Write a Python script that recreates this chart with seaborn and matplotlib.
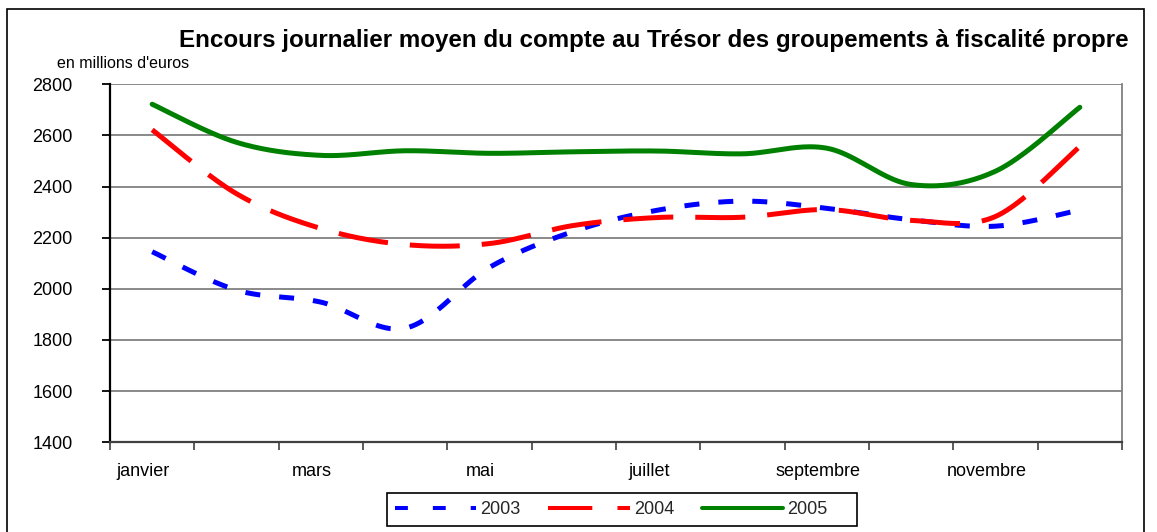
import numpy as np
import pandas as pd
import matplotlib
matplotlib.use("Agg")
import matplotlib.pyplot as plt
import matplotlib.transforms as mtransforms
import seaborn as sns
from matplotlib.patches import Rectangle
from matplotlib.ticker import FixedLocator, NullFormatter, FixedFormatter

# ---------------- data ----------------
months = ["janvier", "février", "mars", "avril", "mai", "juin", "juillet",
          "août", "septembre", "octobre", "novembre", "décembre"]
shown_month_labels = ["janvier", "mars", "mai", "juillet", "septembre", "novembre"]
years = ["2003", "2004", "2005"]
v2003 = [2145, 1995, 1948, 1846, 2084, 2225, 2308, 2343, 2315, 2270, 2245, 2308]
v2004 = [2622, 2372, 2236, 2173, 2177, 2248, 2279, 2280, 2310, 2268, 2283, 2557]
v2005 = [2722, 2573, 2522, 2540, 2530, 2536, 2539, 2528, 2550, 2408, 2460, 2710]
y_ticks = [1400, 1600, 1800, 2000, 2200, 2400, 2600, 2800]

title = "Encours journalier moyen du compte au Trésor des groupements à fiscalité propre"
unit_label = "en millions d'euros"

colors = {"2003": "#0000FF", "2004": "#FF0000", "2005": "#008000"}
dashes = {"2003": (3.0, 3.8), "2004": (10.0, 4.4), "2005": ""}
legend_dashes = {"2003": (3.2, 6.2), "2004": (11.0, 6.25), "2005": None}


def smooth(vals, n=40):
    """Bezier smoothing like spreadsheet 'smoothed line' rendering."""
    x = np.arange(len(vals), dtype=float)
    y = np.asarray(vals, dtype=float)
    pts = np.column_stack([x, y])
    out = []
    m = len(pts)
    for i in range(m - 1):
        i0 = max(i - 1, 0)
        i3 = min(i + 2, m - 1)
        p0, p3 = pts[i], pts[i + 1]
        c1 = p0 + (pts[i + 1] - pts[i0]) / 6.0
        c2 = p3 - (pts[i3] - pts[i]) / 6.0
        t = np.linspace(0, 1, n, endpoint=(i == m - 2))[:, None]
        seg = ((1 - t) ** 3) * p0 + 3 * ((1 - t) ** 2) * t * c1 + 3 * (1 - t) * t ** 2 * c2 + t ** 3 * p3
        out.append(seg)
    out = np.vstack(out)
    return out[:, 0], out[:, 1]


rows = []
for yr, vals in zip(years, [v2003, v2004, v2005]):
    xs, ys = smooth(vals)
    for a, b in zip(xs, ys):
        rows.append({"x": a, "value": b, "year": yr})
df = pd.DataFrame(rows)

# ---------------- style ----------------
sns.set_theme(style="white")
plt.rcParams["font.family"] = ["Liberation Sans", "DejaVu Sans"]

W, H = 1157, 532
fig = plt.figure(figsize=(W / 100, H / 100), dpi=100)
ax = fig.add_axes([110 / W, 1 - 442.2 / H, (1122 - 110) / W, (442.2 - 84.3) / H])

sns.lineplot(data=df, x="x", y="value", hue="year", style="year",
             palette=colors, dashes=dashes, linewidth=3.6,
             estimator=None, sort=False, ax=ax)

ax.set_xlim(-0.5, 11.5)
ax.set_ylim(1400, 2800)
ax.set_xlabel("")
ax.set_ylabel("")

ax.set_yticks(y_ticks)
ax.set_yticklabels([str(v) for v in y_ticks], fontsize=13, color="black")
ax.yaxis.grid(True, color="#808080", linewidth=1.3)
ax.xaxis.grid(False)
ax.set_axisbelow(True)
ax.tick_params(axis="y", which="major", direction="out", length=6, width=1.3,
               color="black", pad=21, left=True)

# x: tick marks at category boundaries, labels at category centres
ax.xaxis.set_major_locator(FixedLocator(np.arange(-0.5, 12, 1.0)))
ax.xaxis.set_major_formatter(NullFormatter())
label_pos = [months.index(m) for m in shown_month_labels]
ax.xaxis.set_minor_locator(FixedLocator(label_pos))
ax.xaxis.set_minor_formatter(FixedFormatter(shown_month_labels))
ax.tick_params(axis="x", which="major", direction="out", length=6, width=1.2,
               color="#404040", bottom=True)
ax.tick_params(axis="x", which="minor", length=0, pad=15, labelsize=13,
               labelcolor="black", bottom=True)
shift = mtransforms.ScaledTranslation(-9 / 100, 0, fig.dpi_scale_trans)
for lbl in ax.xaxis.get_minorticklabels():
    lbl.set_transform(lbl.get_transform() + shift)

ax.spines["left"].set_color("black")
ax.spines["left"].set_linewidth(1.6)
ax.spines["bottom"].set_color("#404040")
ax.spines["bottom"].set_linewidth(1.6)
ax.spines["right"].set_color("#808080")
ax.spines["right"].set_linewidth(1.3)
ax.spines["top"].set_visible(False)

# legend (content placed, box drawn separately to match spacing)
sns.move_legend(ax, "center left", bbox_to_anchor=(395 / W, 1 - 510 / H),
                bbox_transform=fig.transFigure, ncol=3, title=None,
                fontsize=13, frameon=False, handlelength=4.5,
                handletextpad=0.22, columnspacing=1.55, borderpad=0,
                borderaxespad=0)
leg = ax.get_legend()
for h, t in zip(leg.get_lines(), leg.get_texts()):
    h.set_linewidth(2.9)
    d = legend_dashes.get(t.get_text())
    if d:
        h.set_dashes(d)
leg_box = Rectangle((387 / W, 1 - 525.7 / H), (857 - 387) / W, (525.7 - 493.3) / H,
                    fill=True, facecolor="white", edgecolor="black", linewidth=1.2,
                    transform=fig.transFigure, zorder=0)
fig.add_artist(leg_box)

# titles
fig.text(654 / W, 1 - 47 / H, title, ha="center", va="baseline",
         fontsize=17.4, fontweight="bold", color="black")
fig.text(57 / W, 1 - 68 / H, unit_label, ha="left", va="baseline",
         fontsize=11.5, color="black")

# outer chart frame
frame = Rectangle((7 / W, -0.1), (1144 - 7) / W, (1 - 9 / H) + 0.1,
                  fill=False, edgecolor="black", linewidth=1.2,
                  transform=fig.transFigure, clip_on=False)
fig.add_artist(frame)

fig.savefig("out.png", dpi=100)
